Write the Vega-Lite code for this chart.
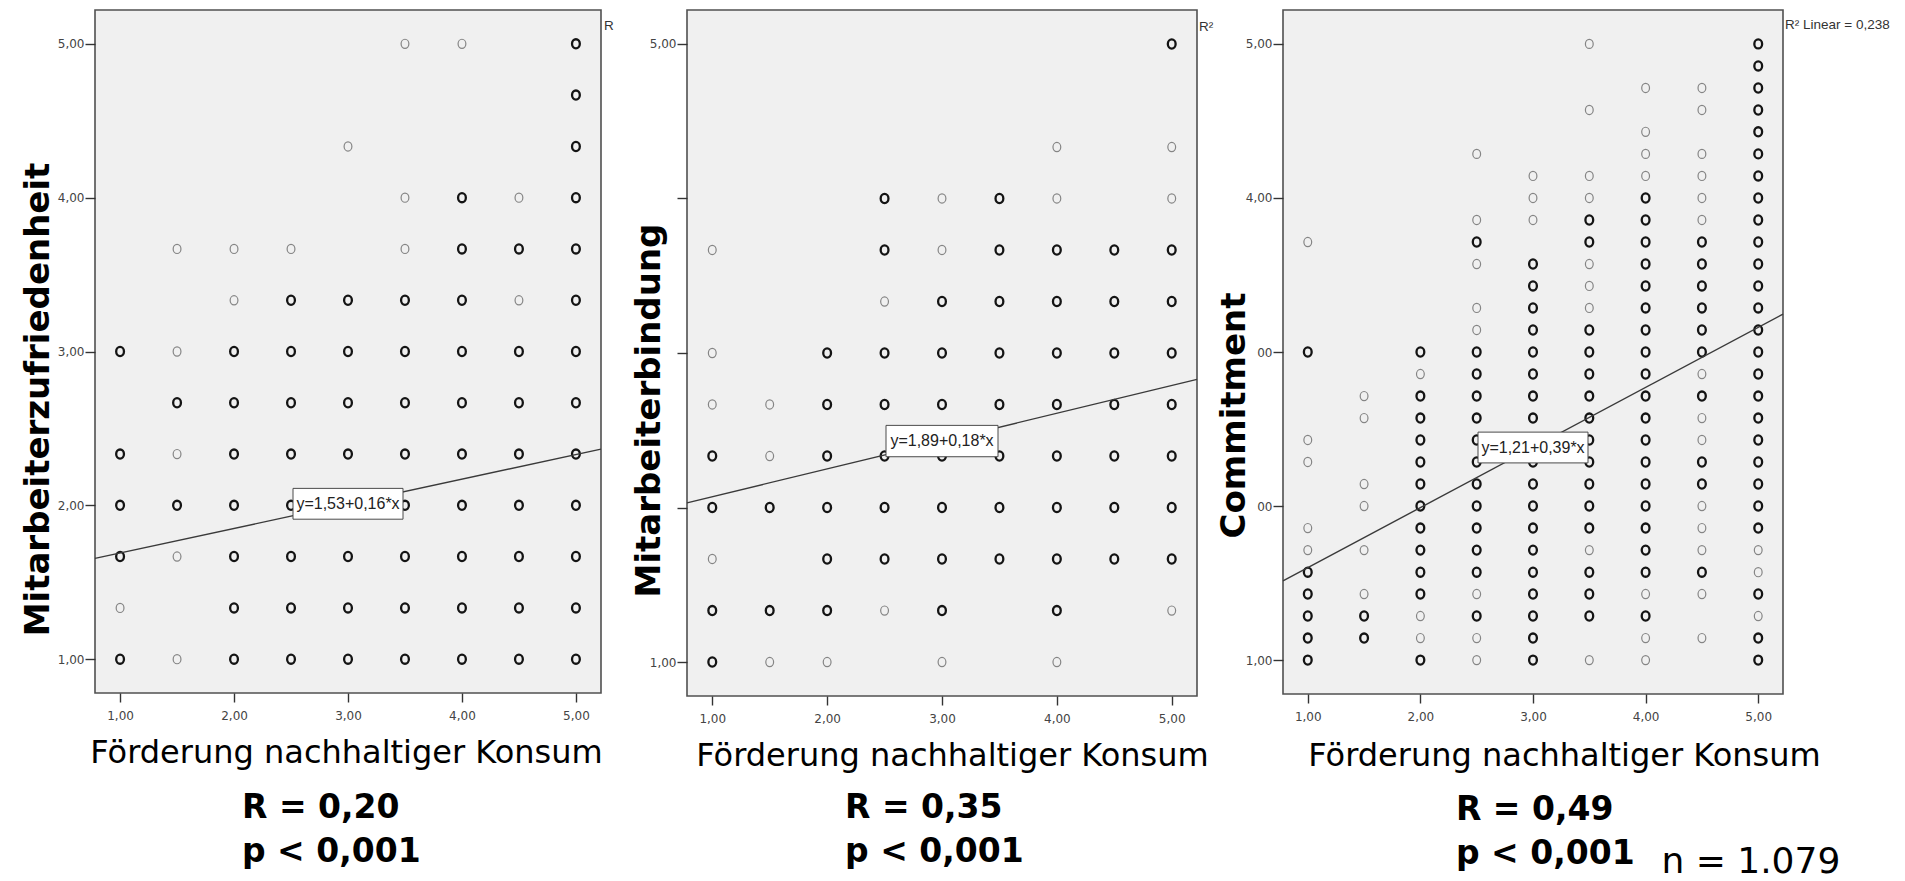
{
  "$schema": "https://vega.github.io/schema/vega-lite/v6.json",
  "background": "white",
  "padding": {"left": 20, "top": 9, "right": 0, "bottom": 0},
  "autosize": {"type": "pad"},
  "bounds": "flush",
  "spacing": 86,
  "config": {
    "view": {"fill": "#f0f0f0", "stroke": "#505050", "strokeWidth": 1.6},
    "axis": {
      "domain": false,
      "grid": false,
      "ticks": true,
      "tickColor": "#333333",
      "tickWidth": 1.4,
      "labelFont": "DejaVu Sans",
      "labelFontSize": 12,
      "labelColor": "#444444",
      "titleColor": "#000000"
    }
  },
  "datasets": {
    "zufriedenheit": [
      {"konsum": 3.5, "wert": 5, "n": 1}, {"konsum": 4, "wert": 5, "n": 1}, {"konsum": 5, "wert": 5, "n": 2},
      {"konsum": 5, "wert": 4.667, "n": 2},
      {"konsum": 3, "wert": 4.333, "n": 1}, {"konsum": 5, "wert": 4.333, "n": 2},
      {"konsum": 3.5, "wert": 4, "n": 1}, {"konsum": 4, "wert": 4, "n": 2}, {"konsum": 4.5, "wert": 4, "n": 1}, {"konsum": 5, "wert": 4, "n": 2},
      {"konsum": 1.5, "wert": 3.667, "n": 1}, {"konsum": 2, "wert": 3.667, "n": 1}, {"konsum": 2.5, "wert": 3.667, "n": 1}, {"konsum": 3.5, "wert": 3.667, "n": 1}, {"konsum": 4, "wert": 3.667, "n": 2}, {"konsum": 4.5, "wert": 3.667, "n": 2}, {"konsum": 5, "wert": 3.667, "n": 2},
      {"konsum": 2, "wert": 3.333, "n": 1}, {"konsum": 2.5, "wert": 3.333, "n": 2}, {"konsum": 3, "wert": 3.333, "n": 2}, {"konsum": 3.5, "wert": 3.333, "n": 2}, {"konsum": 4, "wert": 3.333, "n": 2}, {"konsum": 4.5, "wert": 3.333, "n": 1}, {"konsum": 5, "wert": 3.333, "n": 2},
      {"konsum": 1, "wert": 3, "n": 2}, {"konsum": 1.5, "wert": 3, "n": 1}, {"konsum": 2, "wert": 3, "n": 2}, {"konsum": 2.5, "wert": 3, "n": 2}, {"konsum": 3, "wert": 3, "n": 2}, {"konsum": 3.5, "wert": 3, "n": 2}, {"konsum": 4, "wert": 3, "n": 2}, {"konsum": 4.5, "wert": 3, "n": 2}, {"konsum": 5, "wert": 3, "n": 2},
      {"konsum": 1.5, "wert": 2.667, "n": 2}, {"konsum": 2, "wert": 2.667, "n": 2}, {"konsum": 2.5, "wert": 2.667, "n": 2}, {"konsum": 3, "wert": 2.667, "n": 2}, {"konsum": 3.5, "wert": 2.667, "n": 2}, {"konsum": 4, "wert": 2.667, "n": 2}, {"konsum": 4.5, "wert": 2.667, "n": 2}, {"konsum": 5, "wert": 2.667, "n": 2},
      {"konsum": 1, "wert": 2.333, "n": 2}, {"konsum": 1.5, "wert": 2.333, "n": 1}, {"konsum": 2, "wert": 2.333, "n": 2}, {"konsum": 2.5, "wert": 2.333, "n": 2}, {"konsum": 3, "wert": 2.333, "n": 2}, {"konsum": 3.5, "wert": 2.333, "n": 2}, {"konsum": 4, "wert": 2.333, "n": 2}, {"konsum": 4.5, "wert": 2.333, "n": 2}, {"konsum": 5, "wert": 2.333, "n": 2},
      {"konsum": 1, "wert": 2, "n": 2}, {"konsum": 1.5, "wert": 2, "n": 2}, {"konsum": 2, "wert": 2, "n": 2}, {"konsum": 2.5, "wert": 2, "n": 2}, {"konsum": 3, "wert": 2, "n": 2}, {"konsum": 3.5, "wert": 2, "n": 2}, {"konsum": 4, "wert": 2, "n": 2}, {"konsum": 4.5, "wert": 2, "n": 2}, {"konsum": 5, "wert": 2, "n": 2},
      {"konsum": 1, "wert": 1.667, "n": 2}, {"konsum": 1.5, "wert": 1.667, "n": 1}, {"konsum": 2, "wert": 1.667, "n": 2}, {"konsum": 2.5, "wert": 1.667, "n": 2}, {"konsum": 3, "wert": 1.667, "n": 2}, {"konsum": 3.5, "wert": 1.667, "n": 2}, {"konsum": 4, "wert": 1.667, "n": 2}, {"konsum": 4.5, "wert": 1.667, "n": 2}, {"konsum": 5, "wert": 1.667, "n": 2},
      {"konsum": 1, "wert": 1.333, "n": 1}, {"konsum": 2, "wert": 1.333, "n": 2}, {"konsum": 2.5, "wert": 1.333, "n": 2}, {"konsum": 3, "wert": 1.333, "n": 2}, {"konsum": 3.5, "wert": 1.333, "n": 2}, {"konsum": 4, "wert": 1.333, "n": 2}, {"konsum": 4.5, "wert": 1.333, "n": 2}, {"konsum": 5, "wert": 1.333, "n": 2},
      {"konsum": 1, "wert": 1, "n": 2}, {"konsum": 1.5, "wert": 1, "n": 1}, {"konsum": 2, "wert": 1, "n": 2}, {"konsum": 2.5, "wert": 1, "n": 2}, {"konsum": 3, "wert": 1, "n": 2}, {"konsum": 3.5, "wert": 1, "n": 2}, {"konsum": 4, "wert": 1, "n": 2}, {"konsum": 4.5, "wert": 1, "n": 2}, {"konsum": 5, "wert": 1, "n": 2}
    ],
    "bindung": [
      {"konsum": 5, "wert": 5, "n": 2},
      {"konsum": 4, "wert": 4.333, "n": 1}, {"konsum": 5, "wert": 4.333, "n": 1},
      {"konsum": 2.5, "wert": 4, "n": 2}, {"konsum": 3, "wert": 4, "n": 1}, {"konsum": 3.5, "wert": 4, "n": 2}, {"konsum": 4, "wert": 4, "n": 1}, {"konsum": 5, "wert": 4, "n": 1},
      {"konsum": 1, "wert": 3.667, "n": 1}, {"konsum": 2.5, "wert": 3.667, "n": 2}, {"konsum": 3, "wert": 3.667, "n": 1}, {"konsum": 3.5, "wert": 3.667, "n": 2}, {"konsum": 4, "wert": 3.667, "n": 2}, {"konsum": 4.5, "wert": 3.667, "n": 2}, {"konsum": 5, "wert": 3.667, "n": 2},
      {"konsum": 2.5, "wert": 3.333, "n": 1}, {"konsum": 3, "wert": 3.333, "n": 2}, {"konsum": 3.5, "wert": 3.333, "n": 2}, {"konsum": 4, "wert": 3.333, "n": 2}, {"konsum": 4.5, "wert": 3.333, "n": 2}, {"konsum": 5, "wert": 3.333, "n": 2},
      {"konsum": 1, "wert": 3, "n": 1}, {"konsum": 2, "wert": 3, "n": 2}, {"konsum": 2.5, "wert": 3, "n": 2}, {"konsum": 3, "wert": 3, "n": 2}, {"konsum": 3.5, "wert": 3, "n": 2}, {"konsum": 4, "wert": 3, "n": 2}, {"konsum": 4.5, "wert": 3, "n": 2}, {"konsum": 5, "wert": 3, "n": 2},
      {"konsum": 1, "wert": 2.667, "n": 1}, {"konsum": 1.5, "wert": 2.667, "n": 1}, {"konsum": 2, "wert": 2.667, "n": 2}, {"konsum": 2.5, "wert": 2.667, "n": 2}, {"konsum": 3, "wert": 2.667, "n": 2}, {"konsum": 3.5, "wert": 2.667, "n": 2}, {"konsum": 4, "wert": 2.667, "n": 2}, {"konsum": 4.5, "wert": 2.667, "n": 2}, {"konsum": 5, "wert": 2.667, "n": 2},
      {"konsum": 1, "wert": 2.333, "n": 2}, {"konsum": 1.5, "wert": 2.333, "n": 1}, {"konsum": 2, "wert": 2.333, "n": 2}, {"konsum": 2.5, "wert": 2.333, "n": 2}, {"konsum": 3, "wert": 2.333, "n": 2}, {"konsum": 3.5, "wert": 2.333, "n": 2}, {"konsum": 4, "wert": 2.333, "n": 2}, {"konsum": 4.5, "wert": 2.333, "n": 2}, {"konsum": 5, "wert": 2.333, "n": 2},
      {"konsum": 1, "wert": 2, "n": 2}, {"konsum": 1.5, "wert": 2, "n": 2}, {"konsum": 2, "wert": 2, "n": 2}, {"konsum": 2.5, "wert": 2, "n": 2}, {"konsum": 3, "wert": 2, "n": 2}, {"konsum": 3.5, "wert": 2, "n": 2}, {"konsum": 4, "wert": 2, "n": 2}, {"konsum": 4.5, "wert": 2, "n": 2}, {"konsum": 5, "wert": 2, "n": 2},
      {"konsum": 1, "wert": 1.667, "n": 1}, {"konsum": 2, "wert": 1.667, "n": 2}, {"konsum": 2.5, "wert": 1.667, "n": 2}, {"konsum": 3, "wert": 1.667, "n": 2}, {"konsum": 3.5, "wert": 1.667, "n": 2}, {"konsum": 4, "wert": 1.667, "n": 2}, {"konsum": 4.5, "wert": 1.667, "n": 2}, {"konsum": 5, "wert": 1.667, "n": 2},
      {"konsum": 1, "wert": 1.333, "n": 2}, {"konsum": 1.5, "wert": 1.333, "n": 2}, {"konsum": 2, "wert": 1.333, "n": 2}, {"konsum": 2.5, "wert": 1.333, "n": 1}, {"konsum": 3, "wert": 1.333, "n": 2}, {"konsum": 4, "wert": 1.333, "n": 2}, {"konsum": 5, "wert": 1.333, "n": 1},
      {"konsum": 1, "wert": 1, "n": 2}, {"konsum": 1.5, "wert": 1, "n": 1}, {"konsum": 2, "wert": 1, "n": 1}, {"konsum": 3, "wert": 1, "n": 1}, {"konsum": 4, "wert": 1, "n": 1}
    ],
    "commitment": [
      {"konsum": 3.5, "wert": 5, "n": 1}, {"konsum": 5, "wert": 5, "n": 2},
      {"konsum": 5, "wert": 4.857, "n": 2},
      {"konsum": 4, "wert": 4.714, "n": 1}, {"konsum": 4.5, "wert": 4.714, "n": 1}, {"konsum": 5, "wert": 4.714, "n": 2},
      {"konsum": 3.5, "wert": 4.571, "n": 1}, {"konsum": 4.5, "wert": 4.571, "n": 1}, {"konsum": 5, "wert": 4.571, "n": 2},
      {"konsum": 4, "wert": 4.429, "n": 1}, {"konsum": 5, "wert": 4.429, "n": 2},
      {"konsum": 2.5, "wert": 4.286, "n": 1}, {"konsum": 4, "wert": 4.286, "n": 1}, {"konsum": 4.5, "wert": 4.286, "n": 1}, {"konsum": 5, "wert": 4.286, "n": 2},
      {"konsum": 3, "wert": 4.143, "n": 1}, {"konsum": 3.5, "wert": 4.143, "n": 1}, {"konsum": 4, "wert": 4.143, "n": 1}, {"konsum": 4.5, "wert": 4.143, "n": 1}, {"konsum": 5, "wert": 4.143, "n": 2},
      {"konsum": 3, "wert": 4, "n": 1}, {"konsum": 3.5, "wert": 4, "n": 1}, {"konsum": 4, "wert": 4, "n": 2}, {"konsum": 4.5, "wert": 4, "n": 1}, {"konsum": 5, "wert": 4, "n": 2},
      {"konsum": 2.5, "wert": 3.857, "n": 1}, {"konsum": 3, "wert": 3.857, "n": 1}, {"konsum": 3.5, "wert": 3.857, "n": 2}, {"konsum": 4, "wert": 3.857, "n": 2}, {"konsum": 4.5, "wert": 3.857, "n": 1}, {"konsum": 5, "wert": 3.857, "n": 2},
      {"konsum": 1, "wert": 3.714, "n": 1}, {"konsum": 2.5, "wert": 3.714, "n": 2}, {"konsum": 3.5, "wert": 3.714, "n": 2}, {"konsum": 4, "wert": 3.714, "n": 2}, {"konsum": 4.5, "wert": 3.714, "n": 2}, {"konsum": 5, "wert": 3.714, "n": 2},
      {"konsum": 2.5, "wert": 3.571, "n": 1}, {"konsum": 3, "wert": 3.571, "n": 2}, {"konsum": 3.5, "wert": 3.571, "n": 1}, {"konsum": 4, "wert": 3.571, "n": 2}, {"konsum": 4.5, "wert": 3.571, "n": 2}, {"konsum": 5, "wert": 3.571, "n": 2},
      {"konsum": 3, "wert": 3.429, "n": 2}, {"konsum": 3.5, "wert": 3.429, "n": 1}, {"konsum": 4, "wert": 3.429, "n": 2}, {"konsum": 4.5, "wert": 3.429, "n": 2}, {"konsum": 5, "wert": 3.429, "n": 2},
      {"konsum": 2.5, "wert": 3.286, "n": 1}, {"konsum": 3, "wert": 3.286, "n": 2}, {"konsum": 3.5, "wert": 3.286, "n": 1}, {"konsum": 4, "wert": 3.286, "n": 2}, {"konsum": 4.5, "wert": 3.286, "n": 2}, {"konsum": 5, "wert": 3.286, "n": 2},
      {"konsum": 2.5, "wert": 3.143, "n": 1}, {"konsum": 3, "wert": 3.143, "n": 2}, {"konsum": 3.5, "wert": 3.143, "n": 2}, {"konsum": 4, "wert": 3.143, "n": 2}, {"konsum": 4.5, "wert": 3.143, "n": 2}, {"konsum": 5, "wert": 3.143, "n": 2},
      {"konsum": 1, "wert": 3, "n": 2}, {"konsum": 2, "wert": 3, "n": 2}, {"konsum": 2.5, "wert": 3, "n": 2}, {"konsum": 3, "wert": 3, "n": 2}, {"konsum": 3.5, "wert": 3, "n": 2}, {"konsum": 4, "wert": 3, "n": 2}, {"konsum": 4.5, "wert": 3, "n": 2}, {"konsum": 5, "wert": 3, "n": 2},
      {"konsum": 2, "wert": 2.857, "n": 1}, {"konsum": 2.5, "wert": 2.857, "n": 2}, {"konsum": 3, "wert": 2.857, "n": 2}, {"konsum": 3.5, "wert": 2.857, "n": 2}, {"konsum": 4, "wert": 2.857, "n": 2}, {"konsum": 4.5, "wert": 2.857, "n": 1}, {"konsum": 5, "wert": 2.857, "n": 2},
      {"konsum": 1.5, "wert": 2.714, "n": 1}, {"konsum": 2, "wert": 2.714, "n": 2}, {"konsum": 2.5, "wert": 2.714, "n": 2}, {"konsum": 3, "wert": 2.714, "n": 2}, {"konsum": 3.5, "wert": 2.714, "n": 2}, {"konsum": 4, "wert": 2.714, "n": 2}, {"konsum": 4.5, "wert": 2.714, "n": 2}, {"konsum": 5, "wert": 2.714, "n": 2},
      {"konsum": 1.5, "wert": 2.571, "n": 1}, {"konsum": 2, "wert": 2.571, "n": 2}, {"konsum": 2.5, "wert": 2.571, "n": 2}, {"konsum": 3, "wert": 2.571, "n": 2}, {"konsum": 3.5, "wert": 2.571, "n": 2}, {"konsum": 4, "wert": 2.571, "n": 2}, {"konsum": 4.5, "wert": 2.571, "n": 1}, {"konsum": 5, "wert": 2.571, "n": 2},
      {"konsum": 1, "wert": 2.429, "n": 1}, {"konsum": 2, "wert": 2.429, "n": 2}, {"konsum": 2.5, "wert": 2.429, "n": 2}, {"konsum": 3, "wert": 2.429, "n": 2}, {"konsum": 3.5, "wert": 2.429, "n": 2}, {"konsum": 4, "wert": 2.429, "n": 2}, {"konsum": 4.5, "wert": 2.429, "n": 1}, {"konsum": 5, "wert": 2.429, "n": 2},
      {"konsum": 1, "wert": 2.286, "n": 1}, {"konsum": 2, "wert": 2.286, "n": 2}, {"konsum": 2.5, "wert": 2.286, "n": 2}, {"konsum": 3, "wert": 2.286, "n": 2}, {"konsum": 3.5, "wert": 2.286, "n": 2}, {"konsum": 4, "wert": 2.286, "n": 2}, {"konsum": 4.5, "wert": 2.286, "n": 2}, {"konsum": 5, "wert": 2.286, "n": 2},
      {"konsum": 1.5, "wert": 2.143, "n": 1}, {"konsum": 2, "wert": 2.143, "n": 2}, {"konsum": 2.5, "wert": 2.143, "n": 2}, {"konsum": 3, "wert": 2.143, "n": 2}, {"konsum": 3.5, "wert": 2.143, "n": 2}, {"konsum": 4, "wert": 2.143, "n": 2}, {"konsum": 4.5, "wert": 2.143, "n": 2}, {"konsum": 5, "wert": 2.143, "n": 2},
      {"konsum": 1.5, "wert": 2, "n": 1}, {"konsum": 2, "wert": 2, "n": 2}, {"konsum": 2.5, "wert": 2, "n": 2}, {"konsum": 3, "wert": 2, "n": 2}, {"konsum": 3.5, "wert": 2, "n": 2}, {"konsum": 4, "wert": 2, "n": 2}, {"konsum": 4.5, "wert": 2, "n": 1}, {"konsum": 5, "wert": 2, "n": 2},
      {"konsum": 1, "wert": 1.857, "n": 1}, {"konsum": 2, "wert": 1.857, "n": 2}, {"konsum": 2.5, "wert": 1.857, "n": 2}, {"konsum": 3, "wert": 1.857, "n": 2}, {"konsum": 3.5, "wert": 1.857, "n": 2}, {"konsum": 4, "wert": 1.857, "n": 2}, {"konsum": 4.5, "wert": 1.857, "n": 1}, {"konsum": 5, "wert": 1.857, "n": 2},
      {"konsum": 1, "wert": 1.714, "n": 1}, {"konsum": 1.5, "wert": 1.714, "n": 1}, {"konsum": 2, "wert": 1.714, "n": 2}, {"konsum": 2.5, "wert": 1.714, "n": 2}, {"konsum": 3, "wert": 1.714, "n": 2}, {"konsum": 3.5, "wert": 1.714, "n": 1}, {"konsum": 4, "wert": 1.714, "n": 2}, {"konsum": 4.5, "wert": 1.714, "n": 1}, {"konsum": 5, "wert": 1.714, "n": 1},
      {"konsum": 1, "wert": 1.571, "n": 2}, {"konsum": 2, "wert": 1.571, "n": 2}, {"konsum": 2.5, "wert": 1.571, "n": 2}, {"konsum": 3, "wert": 1.571, "n": 2}, {"konsum": 3.5, "wert": 1.571, "n": 2}, {"konsum": 4, "wert": 1.571, "n": 2}, {"konsum": 4.5, "wert": 1.571, "n": 2}, {"konsum": 5, "wert": 1.571, "n": 1},
      {"konsum": 1, "wert": 1.429, "n": 2}, {"konsum": 1.5, "wert": 1.429, "n": 1}, {"konsum": 2, "wert": 1.429, "n": 2}, {"konsum": 2.5, "wert": 1.429, "n": 1}, {"konsum": 3, "wert": 1.429, "n": 2}, {"konsum": 3.5, "wert": 1.429, "n": 2}, {"konsum": 4, "wert": 1.429, "n": 1}, {"konsum": 4.5, "wert": 1.429, "n": 1}, {"konsum": 5, "wert": 1.429, "n": 2},
      {"konsum": 1, "wert": 1.286, "n": 2}, {"konsum": 1.5, "wert": 1.286, "n": 2}, {"konsum": 2, "wert": 1.286, "n": 1}, {"konsum": 2.5, "wert": 1.286, "n": 2}, {"konsum": 3, "wert": 1.286, "n": 2}, {"konsum": 3.5, "wert": 1.286, "n": 2}, {"konsum": 4, "wert": 1.286, "n": 2}, {"konsum": 5, "wert": 1.286, "n": 1},
      {"konsum": 1, "wert": 1.143, "n": 2}, {"konsum": 1.5, "wert": 1.143, "n": 2}, {"konsum": 2, "wert": 1.143, "n": 1}, {"konsum": 2.5, "wert": 1.143, "n": 1}, {"konsum": 3, "wert": 1.143, "n": 2}, {"konsum": 4, "wert": 1.143, "n": 1}, {"konsum": 4.5, "wert": 1.143, "n": 1}, {"konsum": 5, "wert": 1.143, "n": 2},
      {"konsum": 1, "wert": 1, "n": 2}, {"konsum": 2, "wert": 1, "n": 2}, {"konsum": 2.5, "wert": 1, "n": 1}, {"konsum": 3, "wert": 1, "n": 2}, {"konsum": 3.5, "wert": 1, "n": 1}, {"konsum": 4, "wert": 1, "n": 1}, {"konsum": 5, "wert": 1, "n": 2}
    ],
    "geraden": [
      {"panel": "zufriedenheit", "konsum": 0.78, "wert": 1.6548},
      {"panel": "zufriedenheit", "konsum": 5.22, "wert": 2.3652},
      {"panel": "bindung", "konsum": 0.78, "wert": 2.0304},
      {"panel": "bindung", "konsum": 5.22, "wert": 2.8296},
      {"panel": "commitment", "konsum": 0.78, "wert": 1.5142},
      {"panel": "commitment", "konsum": 5.22, "wert": 3.2458}
    ],
    "gleichungen": [
      {"panel": "zufriedenheit", "konsum": 3, "wert": 2.01, "text": "y=1,53+0,16*x"},
      {"panel": "bindung", "konsum": 3, "wert": 2.43, "text": "y=1,89+0,18*x"},
      {"panel": "commitment", "konsum": 3, "wert": 2.38, "text": "y=1,21+0,39*x"}
    ],
    "r2": [
      {"panel": "zufriedenheit", "konsum": 5.246, "wert": 5.09, "text": "R"},
      {"panel": "bindung", "konsum": 5.237, "wert": 5.084, "text": "R²"},
      {"panel": "commitment", "konsum": 5.238, "wert": 5.097, "text": "R² Linear = 0,238"}
    ],
    "kennwerte": [
      {"panel": "zufriedenheit", "konsum": 2.07, "wert": -0.033, "text": ["R = 0,20", "p < 0,001"]},
      {"panel": "bindung", "konsum": 2.156, "wert": -0.01, "text": ["R = 0,35", "p < 0,001"]},
      {"panel": "commitment", "konsum": 2.316, "wert": -0.038, "text": ["R = 0,49", "p < 0,001"]}
    ],
    "stichprobe": [
      {"panel": "commitment", "konsum": 4.14, "wert": -0.38, "text": "n = 1.079"}
    ]
  },
  "hconcat": [
    {
      "width": 506,
      "height": 683,
      "encoding": {
        "x": {
          "field": "konsum", "type": "quantitative",
          "scale": {"domain": [0.78, 5.22], "nice": false, "zero": false},
          "axis": {
            "values": [1, 2, 3, 4, 5],
            "labelExpr": "replace(format(datum.value, '.2f'), '.', ',')",
            "tickSize": 9, "labelPadding": 8, "labelBaseline": "top",
            "title": "Förderung nachhaltiger Konsum",
            "titleFont": "DejaVu Sans", "titleFontWeight": "normal", "titleFontSize": 32,
            "titleAlign": "center", "titleBaseline": "alphabetic", "titleX": 251, "titleY": 69
          }
        },
        "y": {
          "field": "wert", "type": "quantitative",
          "scale": {"domain": [0.78, 5.22], "nice": false, "zero": false},
          "axis": {
            "values": [1, 2, 3, 4, 5],
            "labelExpr": "replace(format(datum.value, '.2f'), '.', ',')",
            "tickSize": 10, "labelPadding": 1,
            "title": "Mitarbeiterzufriedenheit",
            "titleFont": "DejaVu Sans", "titleFontWeight": "bold", "titleFontSize": 34,
            "titleAngle": 270, "titleAlign": "center", "titleBaseline": "alphabetic", "titleX": -47, "titleY": 389
          }
        }
      },
      "layer": [
        {
          "data": {"name": "zufriedenheit"},
          "mark": {"type": "point", "shape": "M-0.85,0C-0.85,-0.552,-0.469,-1,0,-1C0.469,-1,0.85,-0.552,0.85,0C0.85,0.552,0.469,1,0,1C-0.469,1,-0.85,0.552,-0.85,0Z", "size": 84, "filled": false, "opacity": 1},
          "encoding": {
            "stroke": {"field": "n", "type": "ordinal", "scale": {"domain": [1, 2], "range": ["#858585", "#141414"]}, "legend": null},
            "strokeWidth": {"field": "n", "type": "ordinal", "scale": {"domain": [1, 2], "range": [1.2, 2.3]}, "legend": null}
          }
        },
        {
          "data": {"name": "geraden"},
          "transform": [{"filter": "datum.panel == 'zufriedenheit'"}],
          "mark": {"type": "line", "color": "#3a3a3a", "strokeWidth": 1.4},
          "encoding": {}
        },
        {
          "data": {"name": "gleichungen"},
          "transform": [{"filter": "datum.panel == 'zufriedenheit'"}],
          "mark": {"type": "point", "shape": "M-1,-0.28L1,-0.28L1,0.28L-1,0.28Z", "size": 12100, "filled": true, "fill": "white", "stroke": "#4a4a4a", "strokeWidth": 1, "opacity": 1},
          "encoding": {}
        },
        {
          "data": {"name": "gleichungen"},
          "transform": [{"filter": "datum.panel == 'zufriedenheit'"}],
          "mark": {"type": "text", "font": "Liberation Sans", "fontSize": 16, "color": "#222222", "align": "center", "baseline": "middle"},
          "encoding": {"text": {"field": "text"}}
        },
        {
          "data": {"name": "r2"},
          "transform": [{"filter": "datum.panel == 'zufriedenheit'"}],
          "mark": {"type": "text", "font": "Liberation Sans", "fontSize": 13.5, "color": "#333333", "align": "left", "baseline": "alphabetic"},
          "encoding": {"text": {"field": "text"}}
        },
        {
          "data": {"name": "kennwerte"},
          "transform": [{"filter": "datum.panel == 'zufriedenheit'"}],
          "mark": {"type": "text", "font": "DejaVu Sans", "fontWeight": "bold", "fontSize": 33, "lineHeight": 44, "color": "#000000", "align": "left", "baseline": "alphabetic"},
          "encoding": {"text": {"field": "text"}}
        }
      ]
    },
    {
      "width": 510,
      "height": 686,
      "encoding": {
        "x": {
          "field": "konsum", "type": "quantitative",
          "scale": {"domain": [0.78, 5.22], "nice": false, "zero": false},
          "axis": {
            "values": [1, 2, 3, 4, 5],
            "labelExpr": "replace(format(datum.value, '.2f'), '.', ',')",
            "tickSize": 9, "labelPadding": 8, "labelBaseline": "top",
            "title": "Förderung nachhaltiger Konsum",
            "titleFont": "DejaVu Sans", "titleFontWeight": "normal", "titleFontSize": 32,
            "titleAlign": "center", "titleBaseline": "alphabetic", "titleX": 265, "titleY": 69
          }
        },
        "y": {
          "field": "wert", "type": "quantitative",
          "scale": {"domain": [0.78, 5.22], "nice": false, "zero": false},
          "axis": {
            "values": [1, 2, 3, 4, 5],
            "labelExpr": "datum.value == 1 || datum.value == 5 ? replace(format(datum.value, '.2f'), '.', ',') : ''",
            "tickSize": 10, "labelPadding": 1,
            "title": "Mitarbeiterbindung",
            "titleFont": "DejaVu Sans", "titleFontWeight": "bold", "titleFontSize": 34,
            "titleAngle": 270, "titleAlign": "center", "titleBaseline": "alphabetic", "titleX": -28, "titleY": 400
          }
        }
      },
      "layer": [
        {
          "data": {"name": "bindung"},
          "mark": {"type": "point", "shape": "M-0.85,0C-0.85,-0.552,-0.469,-1,0,-1C0.469,-1,0.85,-0.552,0.85,0C0.85,0.552,0.469,1,0,1C-0.469,1,-0.85,0.552,-0.85,0Z", "size": 84, "filled": false, "opacity": 1},
          "encoding": {
            "stroke": {"field": "n", "type": "ordinal", "scale": {"domain": [1, 2], "range": ["#858585", "#141414"]}, "legend": null},
            "strokeWidth": {"field": "n", "type": "ordinal", "scale": {"domain": [1, 2], "range": [1.2, 2.3]}, "legend": null}
          }
        },
        {
          "data": {"name": "geraden"},
          "transform": [{"filter": "datum.panel == 'bindung'"}],
          "mark": {"type": "line", "color": "#3a3a3a", "strokeWidth": 1.4},
          "encoding": {}
        },
        {
          "data": {"name": "gleichungen"},
          "transform": [{"filter": "datum.panel == 'bindung'"}],
          "mark": {"type": "point", "shape": "M-1,-0.28L1,-0.28L1,0.28L-1,0.28Z", "size": 12544, "filled": true, "fill": "white", "stroke": "#4a4a4a", "strokeWidth": 1, "opacity": 1},
          "encoding": {}
        },
        {
          "data": {"name": "gleichungen"},
          "transform": [{"filter": "datum.panel == 'bindung'"}],
          "mark": {"type": "text", "font": "Liberation Sans", "fontSize": 16, "color": "#222222", "align": "center", "baseline": "middle"},
          "encoding": {"text": {"field": "text"}}
        },
        {
          "data": {"name": "r2"},
          "transform": [{"filter": "datum.panel == 'bindung'"}],
          "mark": {"type": "text", "font": "Liberation Sans", "fontSize": 13.5, "color": "#333333", "align": "left", "baseline": "alphabetic"},
          "encoding": {"text": {"field": "text"}}
        },
        {
          "data": {"name": "kennwerte"},
          "transform": [{"filter": "datum.panel == 'bindung'"}],
          "mark": {"type": "text", "font": "DejaVu Sans", "fontWeight": "bold", "fontSize": 33, "lineHeight": 44, "color": "#000000", "align": "left", "baseline": "alphabetic"},
          "encoding": {"text": {"field": "text"}}
        }
      ]
    },
    {
      "width": 500,
      "height": 684,
      "encoding": {
        "x": {
          "field": "konsum", "type": "quantitative",
          "scale": {"domain": [0.78, 5.22], "nice": false, "zero": false},
          "axis": {
            "values": [1, 2, 3, 4, 5],
            "labelExpr": "replace(format(datum.value, '.2f'), '.', ',')",
            "tickSize": 9, "labelPadding": 8, "labelBaseline": "top",
            "title": "Förderung nachhaltiger Konsum",
            "titleFont": "DejaVu Sans", "titleFontWeight": "normal", "titleFontSize": 32,
            "titleAlign": "center", "titleBaseline": "alphabetic", "titleX": 281, "titleY": 71
          }
        },
        "y": {
          "field": "wert", "type": "quantitative",
          "scale": {"domain": [0.78, 5.22], "nice": false, "zero": false},
          "axis": {
            "values": [1, 2, 3, 4, 5],
            "labelExpr": "datum.value == 2 || datum.value == 3 ? '00' : replace(format(datum.value, '.2f'), '.', ',')",
            "tickSize": 10, "labelPadding": 1,
            "title": "Commitment",
            "titleFont": "DejaVu Sans", "titleFontWeight": "bold", "titleFontSize": 34,
            "titleAngle": 270, "titleAlign": "center", "titleBaseline": "alphabetic", "titleX": -39, "titleY": 405
          }
        }
      },
      "layer": [
        {
          "data": {"name": "commitment"},
          "mark": {"type": "point", "shape": "M-0.85,0C-0.85,-0.552,-0.469,-1,0,-1C0.469,-1,0.85,-0.552,0.85,0C0.85,0.552,0.469,1,0,1C-0.469,1,-0.85,0.552,-0.85,0Z", "size": 84, "filled": false, "opacity": 1},
          "encoding": {
            "stroke": {"field": "n", "type": "ordinal", "scale": {"domain": [1, 2], "range": ["#858585", "#141414"]}, "legend": null},
            "strokeWidth": {"field": "n", "type": "ordinal", "scale": {"domain": [1, 2], "range": [1.2, 2.3]}, "legend": null}
          }
        },
        {
          "data": {"name": "geraden"},
          "transform": [{"filter": "datum.panel == 'commitment'"}],
          "mark": {"type": "line", "color": "#3a3a3a", "strokeWidth": 1.4},
          "encoding": {}
        },
        {
          "data": {"name": "gleichungen"},
          "transform": [{"filter": "datum.panel == 'commitment'"}],
          "mark": {"type": "point", "shape": "M-1,-0.28L1,-0.28L1,0.28L-1,0.28Z", "size": 12100, "filled": true, "fill": "white", "stroke": "#4a4a4a", "strokeWidth": 1, "opacity": 1},
          "encoding": {}
        },
        {
          "data": {"name": "gleichungen"},
          "transform": [{"filter": "datum.panel == 'commitment'"}],
          "mark": {"type": "text", "font": "Liberation Sans", "fontSize": 16, "color": "#222222", "align": "center", "baseline": "middle"},
          "encoding": {"text": {"field": "text"}}
        },
        {
          "data": {"name": "r2"},
          "transform": [{"filter": "datum.panel == 'commitment'"}],
          "mark": {"type": "text", "font": "Liberation Sans", "fontSize": 13.5, "color": "#333333", "align": "left", "baseline": "alphabetic"},
          "encoding": {"text": {"field": "text"}}
        },
        {
          "data": {"name": "kennwerte"},
          "transform": [{"filter": "datum.panel == 'commitment'"}],
          "mark": {"type": "text", "font": "DejaVu Sans", "fontWeight": "bold", "fontSize": 33, "lineHeight": 44, "color": "#000000", "align": "left", "baseline": "alphabetic"},
          "encoding": {"text": {"field": "text"}}
        },
        {
          "data": {"name": "stichprobe"},
          "mark": {"type": "text", "font": "DejaVu Sans", "fontSize": 36, "color": "#000000", "align": "left", "baseline": "alphabetic"},
          "encoding": {"text": {"field": "text"}}
        }
      ]
    }
  ]
}
